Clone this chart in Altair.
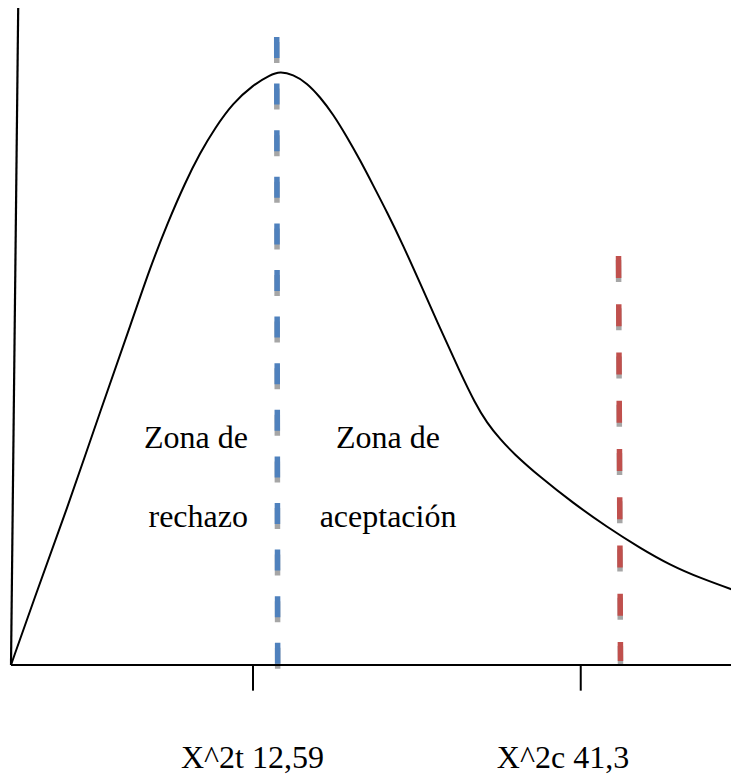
import altair as alt
import pandas as pd

# Curve (schematic chi-square density), abstract units: x 0..100, y 0..100
curve_x = [0.0, 3.022, 7.692, 12.225, 16.758, 19.093, 21.566, 23.901, 25.962, 28.022,
           30.495, 33.242, 35.577, 36.951, 38.736, 40.659, 42.445, 44.231, 46.154,
           47.940, 49.725, 51.648, 53.846, 56.181, 58.929, 61.676, 63.736, 65.385,
           67.170, 68.956, 72.665, 77.198, 81.868, 86.401, 90.522, 94.643, 100.0]
curve_y = [0.0, 9.574, 23.708, 38.450, 52.736, 60.334, 67.325, 73.252, 77.812, 81.611,
           85.410, 88.146, 89.666, 90.198, 89.742, 88.450, 86.322, 83.739, 80.243,
           76.748, 72.948, 68.845, 63.830, 58.055, 51.216, 44.529, 39.818, 36.778,
           34.347, 32.219, 28.571, 24.620, 20.973, 17.781, 15.198, 13.222, 11.094]

# Critical value lines (x at top, x at bottom, top, bottom)
crit_names = ["tabla", "calculado"]
crit_x_top = [36.50, 83.45]
crit_x_bot = [36.63, 83.72]
crit_y_top = [95.44, 62.16]
crit_y_bot = [0.15, 0.61]

# Axis lines
vaxis_x = [0.99, 0.0]
vaxis_y = [100.0, 0.0]
haxis_x = [0.0, 100.0]
haxis_y = [0.0, 0.0]

# Tick marks on x axis
tick_x = [33.24, 78.26]
tick_y_top = [0.0, 0.0]
tick_y_bot = [-3.9, -3.9]

# Tick labels
tick_labels = ["X^2t 12,59", "X^2c 41,3"]
tick_label_x = [33.17, 75.82]
tick_label_y = [-15.65, -15.65]

# Zone labels
zone_left = ["Zona de", "rechazo"]
zone_left_x = [32.55, 32.55]
zone_left_y = [33.0, 21.0]
zone_right = ["Zona de", "aceptación"]
zone_right_x = [51.79, 51.79]
zone_right_y = [33.0, 21.0]

xs = alt.Scale(domain=[-0.412, 98.90], nice=False, zero=False)
ys = alt.Scale(domain=[-16.87, 99.85], nice=False, zero=False)

curve_df = pd.DataFrame({"x": curve_x, "y": curve_y, "i": range(len(curve_x))})
crit_df = pd.DataFrame({"name": crit_names, "x": crit_x_top, "x2": crit_x_bot,
                        "y": crit_y_top, "y2": crit_y_bot})
vaxis_df = pd.DataFrame({"x": [vaxis_x[0]], "x2": [vaxis_x[1]], "y": [vaxis_y[0]], "y2": [vaxis_y[1]]})
haxis_df = pd.DataFrame({"x": [haxis_x[0]], "x2": [haxis_x[1]], "y": [haxis_y[0]], "y2": [haxis_y[1]]})
tick_df = pd.DataFrame({"x": tick_x, "y": tick_y_top, "y2": tick_y_bot})
tl_df = pd.DataFrame({"t": tick_labels, "x": tick_label_x, "y": tick_label_y})
zl_df = pd.DataFrame({"t": zone_left, "x": zone_left_x, "y": zone_left_y})
zr_df = pd.DataFrame({"t": zone_right, "x": zone_right_x, "y": zone_right_y})

X = lambda f="x": alt.X(f"{f}:Q", scale=xs, axis=None)
Y = lambda f="y": alt.Y(f"{f}:Q", scale=ys, axis=None)

layers = []
# dashed critical lines: grey shadow + coloured dash
blue_df = crit_df[crit_df.name == "tabla"]
red_df = crit_df[crit_df.name == "calculado"]
for df, col, dash, gap, off in [(blue_df, "#4F81BD", 21, 25.6, 0.76),
                                (red_df, "#C0504D", 22, 26.25, 0.61)]:
    sh = df.copy()
    sh["y"] = sh["y"] - off
    sh["y2"] = sh["y2"] - off
    layers.append(alt.Chart(sh).mark_rule(color="#A6A6A6", strokeWidth=5.5, strokeDash=[dash, gap])
                  .encode(x=X(), x2="x2:Q", y=Y(), y2="y2:Q"))
    layers.append(alt.Chart(df).mark_rule(color=col, strokeWidth=5.5, strokeDash=[dash, gap])
                  .encode(x=X(), x2="x2:Q", y=Y(), y2="y2:Q"))

layers.append(alt.Chart(curve_df).mark_line(color="black", strokeWidth=2, interpolate="basis")
              .encode(x=X(), y=Y(), order="i:Q"))
layers.append(alt.Chart(vaxis_df).mark_rule(color="black", strokeWidth=2.2)
              .encode(x=X(), x2="x2:Q", y=Y(), y2="y2:Q"))
layers.append(alt.Chart(haxis_df).mark_rule(color="black", strokeWidth=2.2)
              .encode(x=X(), x2="x2:Q", y=Y(), y2="y2:Q"))
layers.append(alt.Chart(tick_df).mark_rule(color="black", strokeWidth=2)
              .encode(x=X(), y=Y(), y2="y2:Q"))

font = "Liberation Serif, Times New Roman, serif"
layers.append(alt.Chart(tl_df).mark_text(font=font, fontSize=32, align="center", baseline="alphabetic", color="black")
              .encode(x=X(), y=Y(), text="t:N"))
layers.append(alt.Chart(zl_df).mark_text(font=font, fontSize=32, align="right", baseline="alphabetic", color="black")
              .encode(x=X(), y=Y(), text="t:N"))
layers.append(alt.Chart(zr_df).mark_text(font=font, fontSize=32, align="center", baseline="alphabetic", color="black")
              .encode(x=X(), y=Y(), text="t:N"))

chart = alt.layer(*layers).properties(
    width=723, height=768, padding=0, autosize=alt.AutoSizeParams(type="none")
).configure_view(stroke=None)

chart.save("out.html", embed_options={"renderer": "svg", "actions": False})
